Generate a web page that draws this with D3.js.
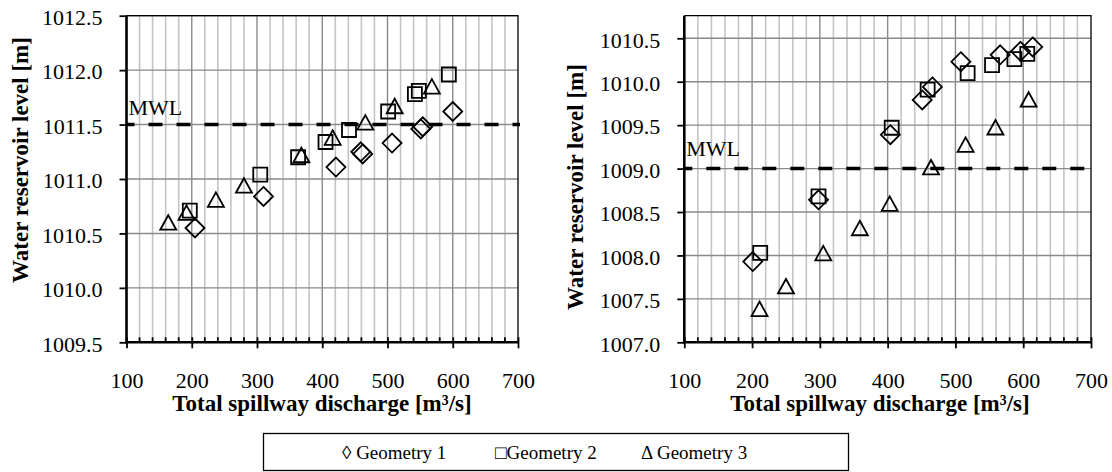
<!DOCTYPE html>
<html>
<head>
<meta charset="utf-8">
<script src="https://cdn.jsdelivr.net/npm/d3@7"></script>
<style>
  body { margin: 0; background: #fff; }
  svg text { font-family: "Liberation Serif", "Times New Roman", serif; fill: #000; }
</style>
</head>
<body>
<script>
"use strict";

// left panel data: [discharge m3/s, level m]
const leftGeom1 = [[205,1010.55],[310,1010.84],[421,1011.11],[459,1011.25],[462,1011.23],[507,1011.33],[551,1011.46],[554,1011.48],[600,1011.62]];
const leftGeom2 = [[197,1010.71],[305,1011.04],[363,1011.20],[405,1011.34],[441,1011.45],[501,1011.62],[542,1011.78],[548,1011.81],[594,1011.96]];
const leftGeom3 = [[164,1010.58],[192,1010.67],[237,1010.79],[280,1010.92],[368,1011.20],[416,1011.36],[466,1011.50],[511,1011.65],[568,1011.83]];

// right panel data
const rightGeom1 = [[201,1007.93],[298,1008.64],[404,1009.39],[451,1009.79],[466,1009.94],[508,1010.23],[566,1010.31],[596,1010.35],[614,1010.40]];
const rightGeom2 = [[212,1008.03],[298,1008.68],[406,1009.47],[459,1009.91],[518,1010.10],[554,1010.19],[587,1010.26],[606,1010.32]];
const rightGeom3 = [[211,1007.36],[250,1007.62],[305,1008.00],[359,1008.29],[403,1008.57],[464,1008.99],[515,1009.25],[559,1009.45],[608,1009.77]];

const xTicks = [100, 200, 300, 400, 500, 600, 700];
const leftYTicks = [1009.5, 1010.0, 1010.5, 1011.0, 1011.5, 1012.0, 1012.5];
const rightYTicks = [1007.0, 1007.5, 1008.0, 1008.5, 1009.0, 1009.5, 1010.0, 1010.5];
const legendNames = ["Geometry 1", "Geometry 2", "Geometry 3"];
const legendGlyphs = ["\u25CA", "\u25A1", "\u0394"];

const width = 1112;
const height = 472;

let svg = d3.select("body").append("svg")
    .attr("width", width)
    .attr("height", height);

// marker shapes
const shapes = [
    "M0,-9.5L9.5,0L0,9.5L-9.5,0Z",
    "M-7,-7L7,-7L7,7L-7,7Z",
    "M0,-9.5L8,5L-8,5Z"
];

function drawPanel(p) {
    let x = d3.scaleLinear().domain([100, 700]).range([p.x0, p.x1]);
    let y = d3.scaleLinear().domain(p.yDomain).range([342.3, 15.7]);
    let g = svg.append("g");
    let minors = d3.range(120, 700, 20).filter(v => v % 100 !== 0);

    // minor vertical grid
    g.selectAll(".vminor")
        .data(minors)
        .enter().append("line")
        .attr("x1", d => x(d)).attr("x2", d => x(d))
        .attr("y1", y.range()[1]).attr("y2", y.range()[0])
        .attr("stroke", "#c4c4c4").attr("stroke-width", 1.6);

    // major vertical grid
    g.selectAll(".vmajor")
        .data([200, 300, 400, 500, 600])
        .enter().append("line")
        .attr("x1", d => x(d)).attr("x2", d => x(d))
        .attr("y1", y.range()[1]).attr("y2", y.range()[0])
        .attr("stroke", "#8a8a8a").attr("stroke-width", 1.4);

    // horizontal grid
    g.selectAll(".hgrid")
        .data(p.yTicks)
        .enter().append("line")
        .attr("x1", p.x0).attr("x2", p.x1)
        .attr("y1", d => y(d)).attr("y2", d => y(d))
        .attr("stroke", "#8a8a8a").attr("stroke-width", 1.4);

    // frame top / right
    g.append("path")
        .attr("d", `M${p.x0},${y.range()[1]}H${p.x1}V${y.range()[0]}`)
        .attr("fill", "none").attr("stroke", "#000").attr("stroke-width", 1.3);

    // MWL line
    g.append("line")
        .attr("x1", p.x0).attr("x2", p.x1 + 2)
        .attr("y1", y(p.mwl)).attr("y2", y(p.mwl))
        .attr("stroke", "#000").attr("stroke-width", 3.5)
        .attr("stroke-dasharray", "14,14")
        .attr("stroke-dashoffset", 6);
    g.append("text")
        .attr("x", p.x0 + 2).attr("y", y(p.mwl) - p.mwlGap)
        .attr("font-size", 22)
        .text("MWL");

    // y axis
    let yAxis = d3.axisLeft(y).tickValues(p.yTicks).tickFormat(d3.format(".1f"))
        .tickSize(7).tickPadding(17);
    let ya = g.append("g").attr("transform", `translate(${p.x0},0)`).call(yAxis);
    ya.select(".domain").remove();
    ya.selectAll("line").attr("stroke", "#000").attr("stroke-width", 1.8);
    ya.selectAll("text")
        .attr("x", -24).attr("dy", "0.4em")
        .style("font-size", "22px").style("font-family", "Liberation Serif");

    // x axis minor ticks (inside)
    g.selectAll(".xminor")
        .data(minors)
        .enter().append("line")
        .attr("x1", d => x(d)).attr("x2", d => x(d))
        .attr("y1", y.range()[0] - 5).attr("y2", y.range()[0])
        .attr("stroke", "#000").attr("stroke-width", 1.8);

    let xAxis = d3.axisBottom(x).tickValues(xTicks).tickFormat(d3.format("d"))
        .tickSize(6);
    let xa = g.append("g").attr("transform", `translate(0,${y.range()[0]})`).call(xAxis);
    xa.select(".domain").remove();
    xa.selectAll("line").attr("stroke", "#000").attr("stroke-width", 1.8).attr("y1", -5);
    xa.selectAll("text")
        .attr("y", 46).attr("dy", 0)
        .style("font-size", "22px").style("font-family", "Liberation Serif");

    // axis lines
    g.append("path")
        .attr("d", `M${p.x0},${y.range()[1]}V${y.range()[0]}H${p.x1 + 1}`)
        .attr("fill", "none").attr("stroke", "#000").attr("stroke-width", 2.6);

    // titles
    g.append("text")
        .attr("x", p.xTitle).attr("y", 411)
        .attr("text-anchor", "middle")
        .attr("font-size", 23).attr("font-weight", "bold")
        .text("Total spillway discharge [m\u00B3/s]");
    g.append("text")
        .attr("transform", `translate(${p.yTitleX},${p.yTitleY}) rotate(-90)`)
        .attr("text-anchor", "middle")
        .attr("font-size", 23).attr("font-weight", "bold")
        .text("Water reservoir level [m]");

    // markers
    p.series.forEach((s, i) => {
        g.selectAll(".m" + i)
            .data(s)
            .enter().append("path")
            .attr("d", shapes[i])
            .attr("transform", d => `translate(${x(d[0])},${y(d[1])})`)
            .attr("fill", "none")
            .attr("stroke", "#000")
            .attr("stroke-width", 1.8);
    });
}

drawPanel({
    x0: 126.5, x1: 518,
    yDomain: [1009.5, 1012.5],
    yTicks: leftYTicks,
    mwl: 1011.5, mwlGap: 10,
    xTitle: 322, yTitleX: 28, yTitleY: 160,
    series: [leftGeom1, leftGeom2, leftGeom3]
});

drawPanel({
    x0: 684.3, x1: 1091,
    yDomain: [1007.0, 1010.76],
    yTicks: rightYTicks,
    mwl: 1009.0, mwlGap: 13,
    xTitle: 880, yTitleX: 583, yTitleY: 187,
    series: [rightGeom1, rightGeom2, rightGeom3]
});

// legend
let legend = svg.append("g");
legend.append("rect")
    .attr("x", 263.5).attr("y", 433.5)
    .attr("width", 585).attr("height", 37)
    .attr("fill", "#fff").attr("stroke", "#000").attr("stroke-width", 1.3);

const legendX = [342, 495, 641];
legendNames.forEach((name, i) => {
    let t = legend.append("text")
        .attr("x", legendX[i]).attr("y", 459)
        .attr("font-size", 19);
    t.append("tspan").text(legendGlyphs[i] + (i === 1 ? "" : " "));
    t.append("tspan").text(name);
});
</script>
</body>
</html>
